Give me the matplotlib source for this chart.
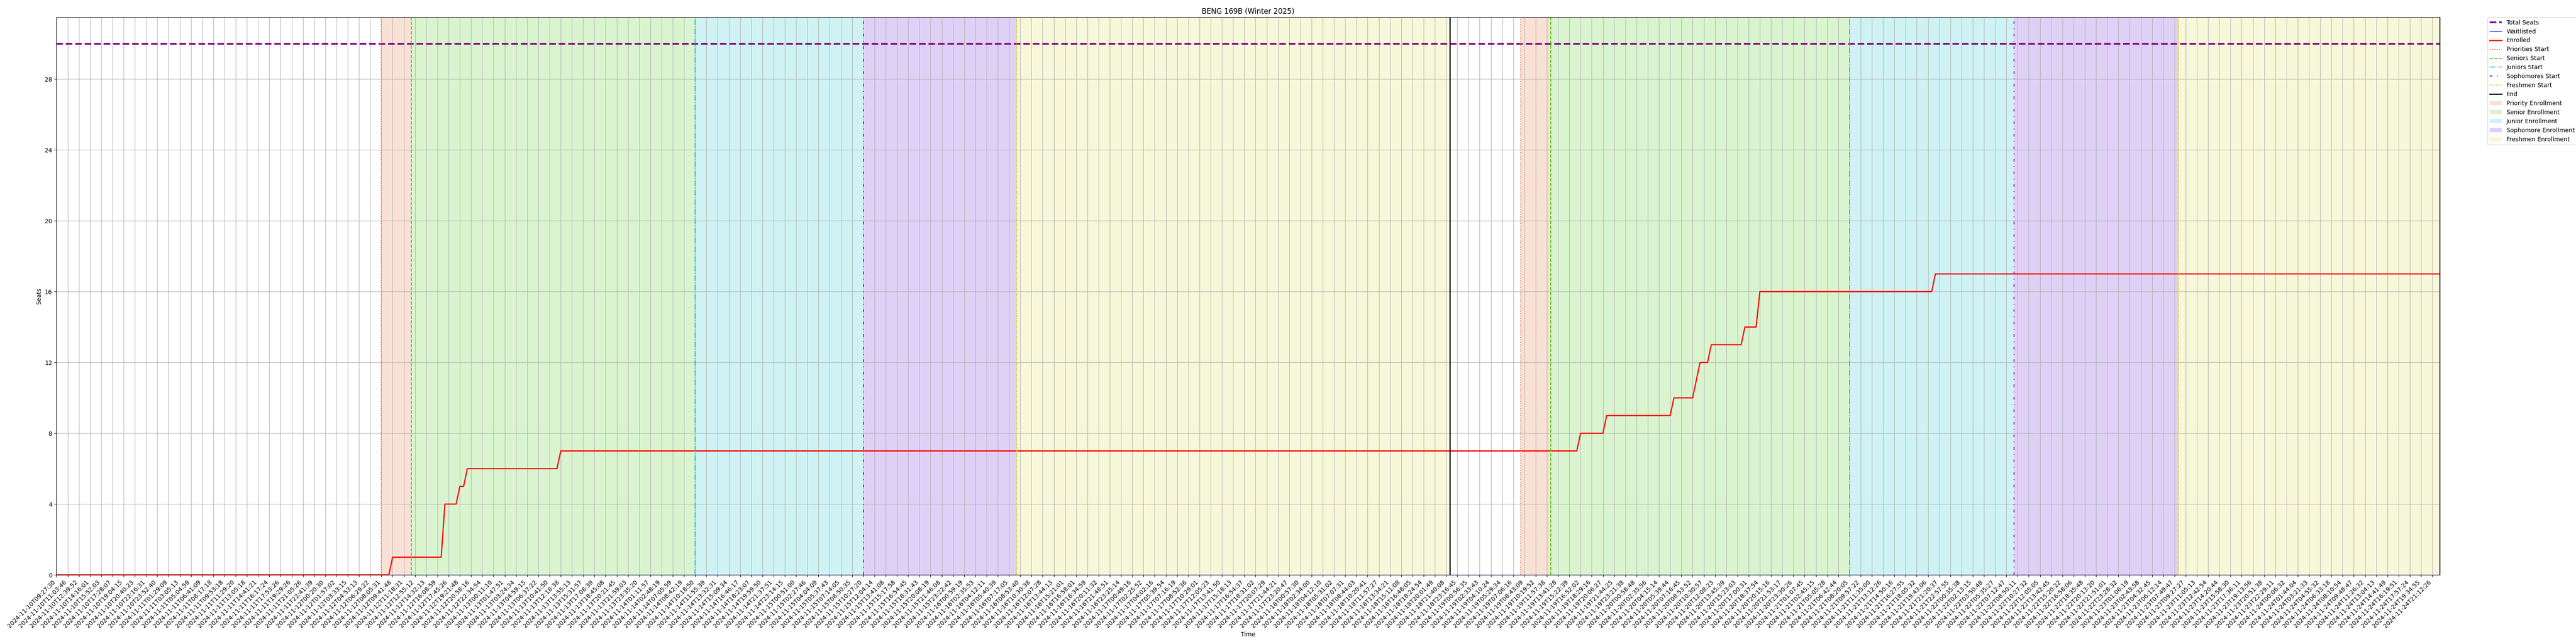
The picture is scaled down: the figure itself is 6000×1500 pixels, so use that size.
import numpy as np
import matplotlib
matplotlib.use("Agg")
import matplotlib.pyplot as plt

# course / seats
title = "BENG 169B (Winter 2025)"
total_seats = 30
n_samples = 639                     # snapshots, one every ~32 min

# enrolled count: sample index where a new level starts, and the level
enroll_start = [0, 90, 104, 108, 110, 135, 408, 415, 433, 439, 440, 443, 452, 456, 503]
enroll_level = [0, 1, 4, 5, 6, 7, 8, 9, 10, 11, 12, 13, 14, 16, 17]
waitlisted_level = 0

# phase boundaries (sample index), first pass / second pass
priority_start = [87, 392]
seniors_start = [95, 400]
juniors_start = [171, 480]
sophomores_start = [216, 524]
freshmen_start = [257, 568]
end_time = [373, 638]

# tick labels (every 3rd snapshot)
tick_labels = [
    "2024-11-10T09:27:30", "2024-11-10T11:03:46", "2024-11-10T12:39:52", "2024-11-10T14:16:01",
    "2024-11-10T15:52:03", "2024-11-10T17:28:07", "2024-11-10T19:04:15", "2024-11-10T20:40:23",
    "2024-11-10T22:16:31", "2024-11-10T23:52:40", "2024-11-11T01:29:09", "2024-11-11T03:05:13",
    "2024-11-11T05:04:59", "2024-11-11T06:41:09", "2024-11-11T08:17:18", "2024-11-11T09:53:18",
    "2024-11-11T11:29:20", "2024-11-11T13:05:18", "2024-11-11T14:41:21", "2024-11-11T16:17:24",
    "2024-11-11T17:53:26", "2024-11-11T19:29:26", "2024-11-11T21:05:26", "2024-11-11T22:41:39",
    "2024-11-12T00:20:30", "2024-11-12T01:57:02", "2024-11-12T03:33:15", "2024-11-12T04:53:13",
    "2024-11-12T06:29:22", "2024-11-12T08:05:31", "2024-11-12T09:41:48", "2024-11-12T11:18:31",
    "2024-11-12T12:55:12", "2024-11-12T14:32:13", "2024-11-12T16:08:59", "2024-11-12T17:45:26",
    "2024-11-12T19:21:48", "2024-11-12T20:58:16", "2024-11-12T22:34:54", "2024-11-13T00:11:10",
    "2024-11-13T01:47:51", "2024-11-13T03:24:34", "2024-11-13T04:59:15", "2024-11-13T06:37:22",
    "2024-11-13T10:41:50", "2024-11-13T12:18:38", "2024-11-13T13:55:13", "2024-11-13T15:31:57",
    "2024-11-13T17:08:39", "2024-11-13T18:45:08", "2024-11-13T20:21:45", "2024-11-13T21:59:03",
    "2024-11-13T23:35:20", "2024-11-14T01:11:57", "2024-11-14T02:48:19", "2024-11-14T07:05:59",
    "2024-11-14T08:42:19", "2024-11-14T10:18:50", "2024-11-14T11:55:39", "2024-11-14T13:32:31",
    "2024-11-14T15:09:34", "2024-11-14T16:46:17", "2024-11-14T18:23:07", "2024-11-14T19:59:50",
    "2024-11-14T21:37:51", "2024-11-14T23:14:15", "2024-11-15T00:51:00", "2024-11-15T02:27:46",
    "2024-11-15T04:04:09", "2024-11-15T05:37:43", "2024-11-15T07:14:05", "2024-11-15T08:50:35",
    "2024-11-15T10:27:20", "2024-11-15T12:04:14", "2024-11-15T13:41:08", "2024-11-15T15:17:58",
    "2024-11-15T16:54:45", "2024-11-15T18:31:43", "2024-11-15T20:08:19", "2024-11-15T21:46:08",
    "2024-11-15T23:22:42", "2024-11-16T00:59:19", "2024-11-16T02:35:53", "2024-11-16T04:12:11",
    "2024-11-16T05:40:39", "2024-11-16T07:17:05", "2024-11-16T08:53:40", "2024-11-16T10:30:38",
    "2024-11-16T12:07:28", "2024-11-16T13:44:13", "2024-11-16T15:21:01", "2024-11-16T16:58:01",
    "2024-11-16T18:34:59", "2024-11-16T20:11:32", "2024-11-16T21:48:51", "2024-11-16T23:25:14",
    "2024-11-17T00:49:16", "2024-11-17T02:25:52", "2024-11-17T04:02:16", "2024-11-17T05:39:54",
    "2024-11-17T07:16:19", "2024-11-17T08:52:36", "2024-11-17T10:29:01", "2024-11-17T12:05:23",
    "2024-11-17T13:41:50", "2024-11-17T15:18:13", "2024-11-17T16:54:37", "2024-11-17T18:31:02",
    "2024-11-17T20:07:29", "2024-11-17T21:44:21", "2024-11-17T23:20:47", "2024-11-18T00:57:30",
    "2024-11-18T02:34:00", "2024-11-18T04:12:10", "2024-11-18T05:31:02", "2024-11-18T07:07:31",
    "2024-11-18T08:44:03", "2024-11-18T10:20:41", "2024-11-18T11:57:27", "2024-11-18T13:34:21",
    "2024-11-18T15:11:08", "2024-11-18T16:48:05", "2024-11-18T18:24:54", "2024-11-18T20:01:49",
    "2024-11-18T21:40:08", "2024-11-18T23:16:45", "2024-11-19T00:56:35", "2024-11-19T02:33:43",
    "2024-11-19T04:10:24", "2024-11-19T05:29:34", "2024-11-19T07:06:16", "2024-11-19T08:43:09",
    "2024-11-19T10:19:52", "2024-11-19T11:57:38", "2024-11-19T13:41:28", "2024-11-19T15:22:39",
    "2024-11-19T16:52:02", "2024-11-19T18:29:16", "2024-11-19T20:06:27", "2024-11-19T21:44:25",
    "2024-11-19T23:21:38", "2024-11-20T00:58:48", "2024-11-20T02:35:56", "2024-11-20T04:15:14",
    "2024-11-20T05:39:44", "2024-11-20T07:16:45", "2024-11-20T08:53:52", "2024-11-20T10:30:57",
    "2024-11-20T12:08:23", "2024-11-20T13:45:39", "2024-11-20T15:23:03", "2024-11-20T17:00:31",
    "2024-11-20T18:37:54", "2024-11-20T20:15:16", "2024-11-20T21:53:17", "2024-11-20T23:30:26",
    "2024-11-21T01:07:45", "2024-11-21T02:45:15", "2024-11-21T05:05:28", "2024-11-21T06:42:44",
    "2024-11-21T08:20:05", "2024-11-21T09:57:22", "2024-11-21T11:35:00", "2024-11-21T13:12:26",
    "2024-11-21T14:50:16", "2024-11-21T16:27:55", "2024-11-21T18:05:32", "2024-11-21T19:43:06",
    "2024-11-21T21:20:37", "2024-11-21T22:57:55", "2024-11-22T00:35:38", "2024-11-22T02:13:15",
    "2024-11-22T03:50:48", "2024-11-22T05:35:27", "2024-11-22T07:12:47", "2024-11-22T08:50:11",
    "2024-11-22T10:27:32", "2024-11-22T12:05:05", "2024-11-22T13:42:45", "2024-11-22T15:20:22",
    "2024-11-22T16:58:06", "2024-11-22T18:35:48", "2024-11-22T20:13:20", "2024-11-22T21:51:01",
    "2024-11-22T23:28:32", "2024-11-23T01:06:19", "2024-11-23T02:43:58", "2024-11-23T04:32:45",
    "2024-11-23T06:12:14", "2024-11-23T07:49:47", "2024-11-23T09:27:27", "2024-11-23T11:05:13",
    "2024-11-23T12:42:54", "2024-11-23T14:20:44", "2024-11-23T15:58:30", "2024-11-23T17:36:11",
    "2024-11-23T19:13:56", "2024-11-23T20:51:38", "2024-11-23T22:29:11", "2024-11-24T00:06:32",
    "2024-11-24T01:44:04", "2024-11-24T03:21:33", "2024-11-24T04:55:32", "2024-11-24T06:33:18",
    "2024-11-24T08:10:54", "2024-11-24T09:48:47", "2024-11-24T11:26:32", "2024-11-24T13:04:13",
    "2024-11-24T14:41:49", "2024-11-24T16:19:51", "2024-11-24T17:57:24", "2024-11-24T19:34:55",
    "2024-11-24T21:12:26",
]

# colours per phase
c_priority = "#e5692e"
c_senior = "#44cc11"
c_junior = "#11c0cc"
c_sophomore = "#5f14cd"
c_freshman = "#d7d741"

# build series
x = np.arange(n_samples)
lengths = np.diff(enroll_start + [n_samples])
enrolled = np.repeat(enroll_level, lengths)
waitlisted = np.full(n_samples, waitlisted_level)

fig = plt.figure(figsize=(60, 15), dpi=100)
fig.subplots_adjust(left=0.0219, right=0.9471, bottom=0.1073, top=0.9733)
ax = fig.add_subplot(111)

h_total = ax.axhline(total_seats, color="purple", linestyle="--", linewidth=3, label="Total Seats")
h_wait, = ax.plot(x, waitlisted, color="blue", linewidth=1, label="Waitlisted")
h_enr, = ax.plot(x, enrolled, color="red", linewidth=2, label="Enrolled")

line_specs = [
    (priority_start, c_priority, ":", 1.5, "Priorities Start"),
    (seniors_start, c_senior, "--", 1.5, "Seniors Start"),
    (juniors_start, c_junior, "-.", 1.5, "Juniors Start"),
    (sophomores_start, c_sophomore, (0, (3, 5, 1, 5)), 1.5, "Sophomores Start"),
    (freshmen_start, c_freshman, (0, (3, 1, 1, 1)), 1.5, "Freshmen Start"),
    (end_time, "black", "-", 2, "End"),
]
line_handles = []
for pos, col, ls, lw, lab in line_specs:
    for i, p in enumerate(pos):
        h = ax.axvline(p, color=col, linestyle=ls, linewidth=lw,
                       label=lab if i == 0 else None)
        if i == 0:
            line_handles.append(h)

span_specs = [
    (priority_start, seniors_start, c_priority, "Priority Enrollment"),
    (seniors_start, juniors_start, c_senior, "Senior Enrollment"),
    (juniors_start, sophomores_start, c_junior, "Junior Enrollment"),
    (sophomores_start, freshmen_start, c_sophomore, "Sophomore Enrollment"),
    (freshmen_start, end_time, c_freshman, "Freshmen Enrollment"),
]
span_handles = []
for a, b, col, lab in span_specs:
    for i in range(len(a)):
        h = ax.axvspan(a[i], b[i], color=col, alpha=0.2, linewidth=0,
                       label=lab if i == 0 else None)
        if i == 0:
            span_handles.append(h)

ax.set_xlim(0, n_samples - 1)
ax.set_ylim(0, total_seats * 1.05)
ax.set_yticks(np.arange(0, 29, 4))
ax.set_xticks(x[::3])
ax.set_xticklabels(tick_labels, rotation=45, ha="right")
ax.grid(True)

ax.set_title(title)
ax.set_xlabel("Time")
ax.set_ylabel("Seats")

handles = [h_total, h_wait, h_enr] + line_handles + span_handles
ax.legend(handles=handles, loc="upper left", bbox_to_anchor=(1.02, 1), borderaxespad=0)

plt.savefig("out.png", dpi=100)
